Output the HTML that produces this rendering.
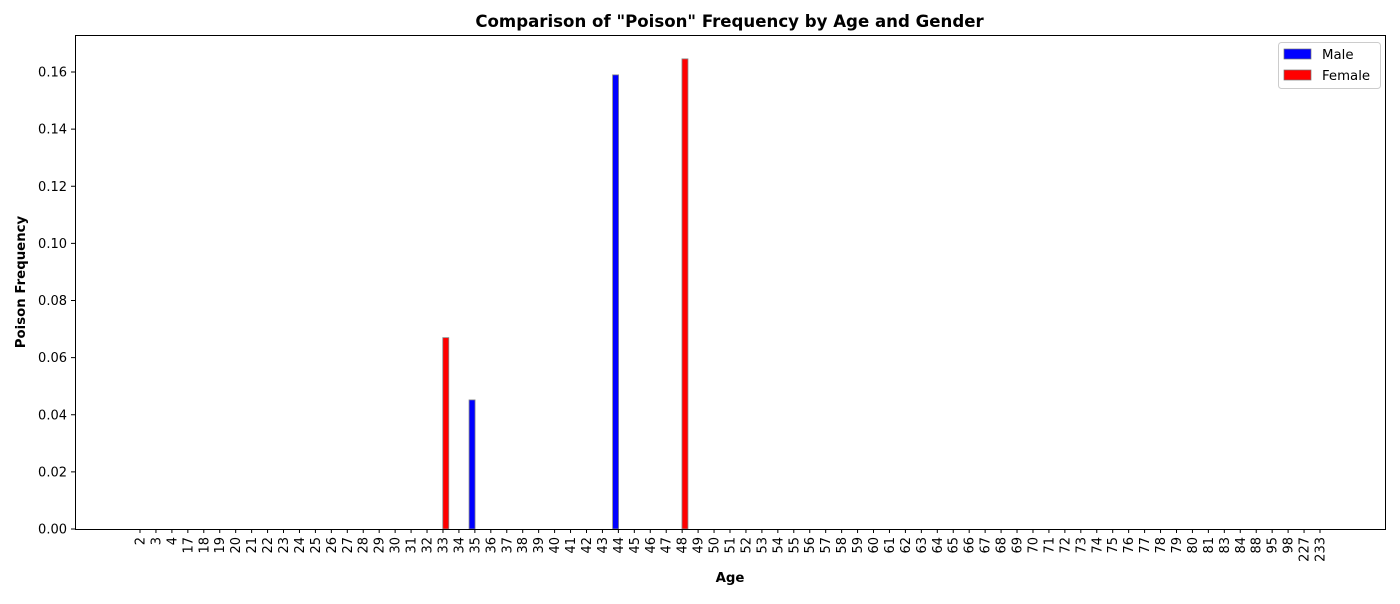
<!DOCTYPE html>
<html><head><meta charset="utf-8"><style>
body{margin:0;background:#fff;font-family:"DejaVu Sans",sans-serif}
</style></head><body>
<svg id="chart" width="1400" height="600" xmlns="http://www.w3.org/2000/svg" font-family="DejaVu Sans, sans-serif">
<text x="729.5" y="27" text-anchor="middle" font-size="16.6" font-weight="bold">Comparison of "Poison" Frequency by Age and Gender</text>
<g id="plot"></g>
<text x="730" y="582" text-anchor="middle" font-size="13.3" font-weight="bold">Age</text>
<text transform="translate(25,282) rotate(-90)" text-anchor="middle" font-size="13.3" font-weight="bold">Poison Frequency</text>
<rect x="75.5" y="35.5" width="1310" height="494" fill="none" stroke="#000" stroke-width="1"/>
<g>
<rect x="1278.5" y="42.5" width="102" height="46" rx="3" fill="#fff" stroke="#ccc"/>
<rect x="1284" y="49" width="27" height="10" fill="#0000ff" stroke="#777" stroke-width="0.7"/>
<text x="1322" y="59" font-size="13.3">Male</text>
<rect x="1284" y="70" width="27" height="10" fill="#ff0000" stroke="#777" stroke-width="0.7"/>
<text x="1322" y="80" font-size="13.3">Female</text>
</g>
</svg>
<script>
const ages=[2,3,4,17,18,19,20,21,22,23,24,25,26,27,28,29,30,31,32,33,34,35,36,37,38,39,40,41,42,43,44,45,46,47,48,49,50,51,52,53,54,55,56,57,58,59,60,61,62,63,64,65,66,67,68,69,70,71,72,73,74,75,76,77,78,79,80,81,83,84,88,95,98,227,233];
const maleAges=[35,44];
const maleValues=[0.0452,0.159];
const femaleAges=[33,48];
const femaleValues=[0.067,0.1646];
const yTicks=[0,0.02,0.04,0.06,0.08,0.10,0.12,0.14,0.16];
const yTickLabels=["0.00","0.02","0.04","0.06","0.08","0.10","0.12","0.14","0.16"];
const NS="http://www.w3.org/2000/svg";
const g=document.getElementById('plot');
const x0=140,x1=1320,yBase=529,yPer=457/0.16;
const xs=i=>x0+i*(x1-x0)/(ages.length-1);
const ys=v=>yBase-v*yPer;
const bw=6;
function mk(t,a){const e=document.createElementNS(NS,t);for(const k in a)e.setAttribute(k,a[k]);g.appendChild(e);return e;}
yTicks.forEach((v,i)=>{
  const l=mk('line',{x1:71,x2:75,y1:ys(v),y2:ys(v),stroke:'#000'});
  
  
  const t=mk('text',{x:67,y:ys(v)+4.5,'text-anchor':'end','font-size':13});
  
  
  t.textContent=yTickLabels[i];
});
ages.forEach((a,i)=>{
  const x=xs(i);
  const l=mk('line',{x1:x,x2:x,y1:529,y2:533,stroke:'#000'});
  
  
  const t=mk('text',{transform:`translate(${x+4.5},537) rotate(-90)`,'text-anchor':'end','font-size':13});
  
  
  t.textContent=a;
});
function bars(agesArr,vals,color,off,name){
  agesArr.forEach((a,j)=>{
    const i=ages.indexOf(a);if(i<0)return;
    const x=xs(i)+off;
    const r=mk('rect',{x:x-bw/2,y:ys(vals[j]),width:bw,height:yBase-ys(vals[j]),fill:color,stroke:'#888','stroke-width':0.8});
    
    
  });
}
bars(maleAges,maleValues,'#0000ff',-2.8,'male');
bars(femaleAges,femaleValues,'#ff0000',2.8,'female');
</script>
</body></html>
